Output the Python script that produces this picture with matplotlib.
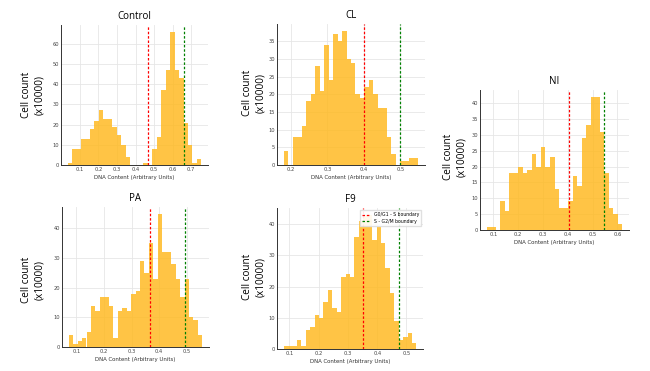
import numpy as np
import matplotlib
matplotlib.use("Agg")
import matplotlib.pyplot as plt
from matplotlib.ticker import MultipleLocator

# histogram counts (30 bins each)
control_counts = [1, 8, 8, 13, 13, 18, 22, 27, 23, 23, 19, 15, 10, 4, 0,
                  0, 0, 1, 0, 8, 14, 37, 47, 66, 47, 43, 21, 10, 1, 3]
control_range = (0.034, 0.755)
control_lines = (0.47, 0.66)
control_xticks = [0.1, 0.2, 0.3, 0.4, 0.5, 0.6, 0.7]

cl_counts = [4, 0, 8, 8, 11, 18, 20, 28, 21, 34, 24, 37, 35, 38, 30,
             29, 20, 19, 22, 24, 20, 16, 16, 8, 3, 0, 1, 1, 2, 2]
cl_range = (0.18, 0.549)
cl_lines = (0.40, 0.50)
cl_xticks = [0.2, 0.3, 0.4, 0.5]

ni_counts = [1, 1, 0, 9, 6, 18, 18, 20, 18, 19, 24, 20, 26, 20, 23,
             13, 7, 7, 9, 17, 14, 29, 33, 42, 42, 31, 18, 7, 5, 2]
ni_range = (0.073, 0.62)
ni_lines = (0.405, 0.547)
ni_xticks = [0.1, 0.2, 0.3, 0.4, 0.5, 0.6]

pa_counts = [4, 1, 2, 3, 5, 14, 12, 17, 17, 14, 3, 12, 13, 12, 18,
             19, 29, 25, 35, 23, 45, 32, 32, 28, 23, 17, 23, 10, 9, 4]
pa_range = (0.072, 0.557)
pa_lines = (0.366, 0.495)
pa_xticks = [0.1, 0.2, 0.3, 0.4, 0.5]

f9_counts = [1, 1, 1, 3, 1, 6, 7, 11, 10, 15, 19, 13, 12, 23, 24,
             23, 36, 41, 43, 43, 35, 39, 34, 26, 18, 9, 3, 4, 5, 2]
f9_range = (0.08, 0.534)
f9_lines = (0.353, 0.475)
f9_xticks = [0.1, 0.2, 0.3, 0.4, 0.5]

W, H = 650, 371
fig = plt.figure(figsize=(W / 100, H / 100), dpi=100)
fig.patch.set_facecolor("white")


def panel(box, title, counts, rng, lines, xticks, ystep, ylab_xy,
          legend=False):
    l, b, w, h = box
    ax = fig.add_axes([l / W, 1 - b / H, w / W, h / H])
    edges = np.linspace(rng[0], rng[1], len(counts) + 1)
    ax.bar(edges[:-1], counts, width=np.diff(edges), align="edge",
           color="#ffb81c", alpha=0.82, linewidth=0, zorder=2)
    ax.axvline(lines[0], color="red", ls="--", lw=0.9, dashes=(2, 1.5),
               label="G0/G1 - S boundary", zorder=3)
    ax.axvline(lines[1], color="green", ls="--", lw=0.9, dashes=(2, 1.5),
               label="S - G2/M boundary", zorder=3)
    ax.grid(True, color="#e6e6e6", lw=0.6, zorder=0)
    ax.set_axisbelow(True)
    for s in ["top", "right"]:
        ax.spines[s].set_visible(False)
    for s in ["left", "bottom"]:
        ax.spines[s].set_color("#333333")
        ax.spines[s].set_linewidth(0.7)
    ax.set_xticks(xticks)
    ax.yaxis.set_major_locator(MultipleLocator(ystep))
    ax.tick_params(length=0, labelsize=3.7, colors="#444444", pad=1.5)
    ax.set_xlabel("DNA Content (Arbitrary Units)", fontsize=3.9,
                  color="#333333", labelpad=2)
    ax.set_title(title, fontsize=7, family="Open Sans", pad=4)
    fig.text(ylab_xy[0] / W, 1 - ylab_xy[1] / H, "Cell count\n(x10000)",
             rotation=90, ha="center", va="center", fontsize=7.2,
             family="Open Sans", linespacing=1.3)
    if legend:
        ax.legend(loc="upper right", fontsize=3.3, frameon=True,
                  handlelength=1.8, borderpad=0.4, labelspacing=0.4,
                  framealpha=0.9, edgecolor="#dddddd", fancybox=False)
    return ax


panel((61, 165, 147, 140), "Control", control_counts, control_range,
      control_lines, control_xticks, 10, (33, 95))
panel((277, 165, 148, 141), "CL", cl_counts, cl_range, cl_lines,
      cl_xticks, 5, (254, 93))
panel((480, 230, 149, 140), "NI", ni_counts, ni_range, ni_lines,
      ni_xticks, 5, (455, 157))
panel((62, 347, 147, 140), "PA", pa_counts, pa_range, pa_lines,
      pa_xticks, 10, (33, 280))
panel((277, 349, 146, 141), "F9", f9_counts, f9_range, f9_lines,
      f9_xticks, 10, (254, 277), legend=True)

fig.savefig("out.png", dpi=100)
